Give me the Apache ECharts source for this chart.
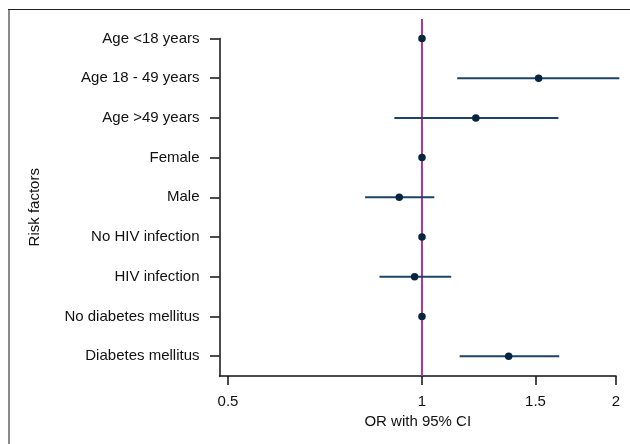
<!DOCTYPE html>
<html>
<head>
<meta charset="utf-8">
<script src="https://cdn.jsdelivr.net/npm/echarts@6/dist/echarts.min.js"></script>
<style>html,body{margin:0;padding:0;background:#fff}#c{width:630px;height:444px}</style>
</head>
<body>
<div id="c"></div>
<script>
const categories = ['Age <18 years','Age 18 - 49 years','Age >49 years','Female','Male','No HIV infection','HIV infection','No diabetes mellitus','Diabetes mellitus'];
const orValues = [1, 1.517, 1.212, 1, 0.922, 1, 0.974, 1, 1.363];
const ciLow    = [null, 1.134, 0.906, null, 0.816, null, 0.859, null, 1.144];
const ciHigh   = [null, 2.024, 1.628, null, 1.045, null, 1.110, null, 1.633];
const xTicks = [0.5, 1, 1.5, 2];
const yTicks = [0,1,2,3,4,5,6,7,8];
const refLine = [[1, -0.49], [1, 8.5]];

const FONT = 'Liberation Sans';
const chart = echarts.init(document.getElementById('c'), null, {renderer:'canvas'});

const ciData = [];
categories.forEach((c, i) => { if (ciLow[i] != null) ciData.push([ciLow[i], ciHigh[i], i]); });
const ptData = orValues.map((v, i) => [v, i]);

chart.setOption({
  animation: false,
  graphic: [
    {type:'line', shape:{x1:9, y1:9, x2:9, y2:444}, style:{stroke:'#8a8a8a', lineWidth:2}},
    {type:'line', shape:{x1:8, y1:9.5, x2:630, y2:9.5}, style:{stroke:'#222', lineWidth:1.2}}
  ],
  grid: {left: 219.5, right: 14, top: 38.5, bottom: 444 - 376, containLabel: false},
  xAxis: {
    type: 'log', logBase: 2, min: 0.4851, max: 2,
    name: 'OR with 95% CI', nameLocation: 'middle', nameGap: 38,
    nameTextStyle: {fontFamily: FONT, fontSize: 15, color: '#111'},
    axisLine: {show: true, onZero: false, lineStyle: {color: '#111', width: 1.5}},
    axisTick: {show: true, length: 9, inside: false, customValues: xTicks, lineStyle: {color: '#111', width: 1.5}},
    axisLabel: {customValues: xTicks, margin: 18, fontFamily: FONT, fontSize: 15, color: '#111',
      formatter: v => String(Math.round(v * 100) / 100)},
    splitLine: {show: false}, minorTick: {show: false}
  },
  yAxis: {
    type: 'value', inverse: true, min: 0, max: 8.5,
    name: 'Risk factors', nameLocation: 'middle', nameGap: 177, nameRotate: 90,
    nameTextStyle: {fontFamily: FONT, fontSize: 15, color: '#111'},
    axisLine: {show: true, onZero: false, lineStyle: {color: '#111', width: 1.5}},
    axisTick: {show: true, length: 9.5, customValues: yTicks, lineStyle: {color: '#111', width: 1.5}},
    axisLabel: {customValues: yTicks, margin: 20, fontFamily: FONT, fontSize: 15, color: '#111',
      formatter: v => categories[Math.round(v)] || ''},
    splitLine: {show: false}
  },
  series: [
    {
      type: 'line', data: refLine, symbol: 'none', clip: false, silent: true,
      lineStyle: {color: '#b0339c', width: 2}, z: 2
    },
    {
      type: 'custom', data: ciData, clip: false, z: 3,
      renderItem: function (params, api) {
        const p1 = api.coord([api.value(0), api.value(2)]);
        const p2 = api.coord([api.value(1), api.value(2)]);
        return {type: 'line', shape: {x1: p1[0], y1: p1[1], x2: p2[0], y2: p2[1]},
          style: {stroke: '#1d4468', lineWidth: 2}};
      },
      encode: {x: [0, 1], y: 2}
    },
    {
      type: 'scatter', data: ptData, symbol: 'circle', symbolSize: 7.5, z: 4,
      itemStyle: {color: '#06253f', opacity: 1}
    }
  ]
});
</script>
</body>
</html>
